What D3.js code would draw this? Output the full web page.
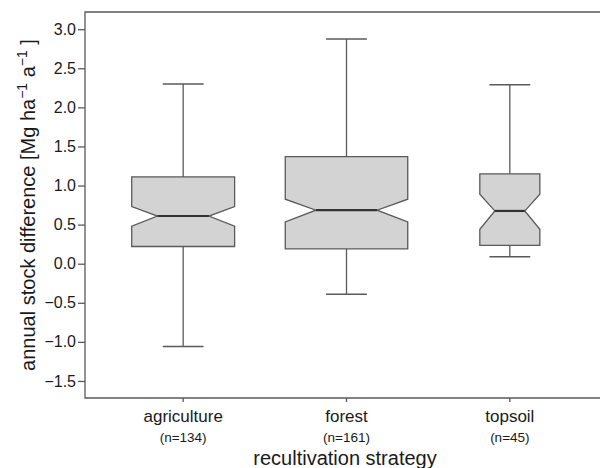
<!DOCTYPE html>
<html>
<head>
<meta charset="utf-8">
<script src="https://cdn.jsdelivr.net/npm/d3@7"></script>
<style>
  body { margin: 0; background: #fff; }
  svg { display: block; font-family: "Liberation Sans", Arial, sans-serif; }
</style>
</head>
<body>
<svg id="chart" width="600" height="468"></svg>
<script>
// box plot stats
var categories = ["agriculture", "forest", "topsoil"];
var counts = [134, 161, 45];
var whiskerLow = [-1.06, -0.39, 0.09];
var q1 = [0.22, 0.19, 0.235];
var notchLow = [0.48, 0.535, 0.44];
var median = [0.61, 0.685, 0.675];
var notchHigh = [0.73, 0.825, 0.89];
var q3 = [1.11, 1.37, 1.15];
var whiskerHigh = [2.30, 2.875, 2.29];
var relWidth = [0.84, 1, 0.49];
var yTicks = [-1.5, -1.0, -0.5, 0.0, 0.5, 1.0, 1.5, 2.0, 2.5, 3.0];

var boxes = categories.map(function (c, i) {
    return {
        name: c, n: counts[i], lo: whiskerLow[i], q1: q1[i], nlo: notchLow[i],
        med: median[i], nhi: notchHigh[i], q3: q3[i], hi: whiskerHigh[i], rw: relWidth[i]
    };
});

// note: "top" is a reserved window property, so use plotTop
var plotLeft = 85, plotTop = 12, plotBottom = 398;
var lineCol = "#5a5a5a";

var svg = d3.select("#chart");

var x = d3.scaleBand()
    .domain(categories)
    .range([101.5, 591.5])
    .padding(0);

var y = d3.scaleLinear()
    .domain([-1.718, 3.22])
    .range([plotBottom, plotTop]);

var maxHalf = x.bandwidth() * 0.375;
var capHalf = x.bandwidth() * 0.125;

// frame (right side runs off the picture)
svg.append("path")
    .attr("d", "M602," + plotTop + "H" + plotLeft + "V" + plotBottom + "H602")
    .attr("fill", "none")
    .attr("stroke", lineCol)
    .attr("stroke-width", 1.3);

// y axis
var yAxis = svg.append("g")
    .attr("transform", "translate(" + plotLeft + ",0)")
    .call(d3.axisLeft(y).tickValues(yTicks).tickSize(7).tickPadding(2)
        .tickFormat(d3.format(".1f")));
yAxis.select(".domain").remove();
yAxis.selectAll("line").attr("stroke", lineCol).attr("stroke-width", 1.3);
yAxis.selectAll("text")
    .attr("fill", "#1a1a1a")
    .style("font-size", "16px")
    .style("font-family", "'Liberation Sans', Arial, sans-serif");

// x axis
var xAxis = svg.append("g")
    .attr("transform", "translate(0," + plotBottom + ")")
    .call(d3.axisBottom(x).tickSize(4).tickFormat(""));
xAxis.select(".domain").remove();
xAxis.selectAll("line").attr("stroke", lineCol).attr("stroke-width", 1.3);

var cx = function (d) { return x(d.name) + x.bandwidth() / 2; };

svg.selectAll(".catlabel")
    .data(boxes)
    .enter().append("text")
    .attr("class", "catlabel")
    .attr("x", cx)
    .attr("y", 422)
    .attr("text-anchor", "middle")
    .attr("fill", "#1a1a1a")
    .style("font-size", "17px")
    .text(function (d) { return d.name; });

svg.selectAll(".nlabel")
    .data(boxes)
    .enter().append("text")
    .attr("class", "nlabel")
    .attr("x", cx)
    .attr("y", 442)
    .attr("text-anchor", "middle")
    .attr("fill", "#1a1a1a")
    .style("font-size", "13.5px")
    .text(function (d) { return "(n=" + d.n + ")"; });

svg.append("text")
    .attr("x", 345)
    .attr("y", 465)
    .attr("text-anchor", "middle")
    .attr("fill", "#1a1a1a")
    .style("font-size", "20px")
    .text("recultivation strategy");

// y title with superscripts
var yt = svg.append("text")
    .attr("transform", "translate(35,205) rotate(-90)")
    .attr("text-anchor", "middle")
    .attr("fill", "#1a1a1a")
    .style("font-size", "20px");
yt.append("tspan").text("annual stock difference [Mg ha");
yt.append("tspan").attr("dy", -8).style("font-size", "14px").text("\u22121");
yt.append("tspan").attr("dy", 8).text("  a");
yt.append("tspan").attr("dy", -8).style("font-size", "14px").text("\u22121");
yt.append("tspan").attr("dy", 8).text(" ]");

var g = svg.selectAll(".box")
    .data(boxes)
    .enter().append("g")
    .attr("class", "box");

// whiskers
g.append("line")
    .attr("x1", cx).attr("x2", cx)
    .attr("y1", function (d) { return y(d.q3); })
    .attr("y2", function (d) { return y(d.hi); })
    .attr("stroke", lineCol).attr("stroke-width", 1.3);
g.append("line")
    .attr("x1", cx).attr("x2", cx)
    .attr("y1", function (d) { return y(d.q1); })
    .attr("y2", function (d) { return y(d.lo); })
    .attr("stroke", lineCol).attr("stroke-width", 1.3);
g.append("line")
    .attr("x1", function (d) { return cx(d) - capHalf; })
    .attr("x2", function (d) { return cx(d) + capHalf; })
    .attr("y1", function (d) { return y(d.hi); })
    .attr("y2", function (d) { return y(d.hi); })
    .attr("stroke", lineCol).attr("stroke-width", 1.5);
g.append("line")
    .attr("x1", function (d) { return cx(d) - capHalf; })
    .attr("x2", function (d) { return cx(d) + capHalf; })
    .attr("y1", function (d) { return y(d.lo); })
    .attr("y2", function (d) { return y(d.lo); })
    .attr("stroke", lineCol).attr("stroke-width", 1.5);

// notched box
g.append("path")
    .attr("d", function (d) {
        var c = cx(d), w = maxHalf * d.rw, nw = w / 2;
        var pts = [
            [c - w, y(d.q3)], [c + w, y(d.q3)], [c + w, y(d.nhi)], [c + nw, y(d.med)],
            [c + w, y(d.nlo)], [c + w, y(d.q1)], [c - w, y(d.q1)], [c - w, y(d.nlo)],
            [c - nw, y(d.med)], [c - w, y(d.nhi)]
        ];
        return "M" + pts.join("L") + "Z";
    })
    .attr("fill", "#d3d3d3")
    .attr("stroke", lineCol)
    .attr("stroke-width", 1.3);

g.append("line")
    .attr("x1", function (d) { return cx(d) - maxHalf * d.rw / 2; })
    .attr("x2", function (d) { return cx(d) + maxHalf * d.rw / 2; })
    .attr("y1", function (d) { return y(d.med); })
    .attr("y2", function (d) { return y(d.med); })
    .attr("stroke", "#333")
    .attr("stroke-width", 2.2);
</script>
</body>
</html>
